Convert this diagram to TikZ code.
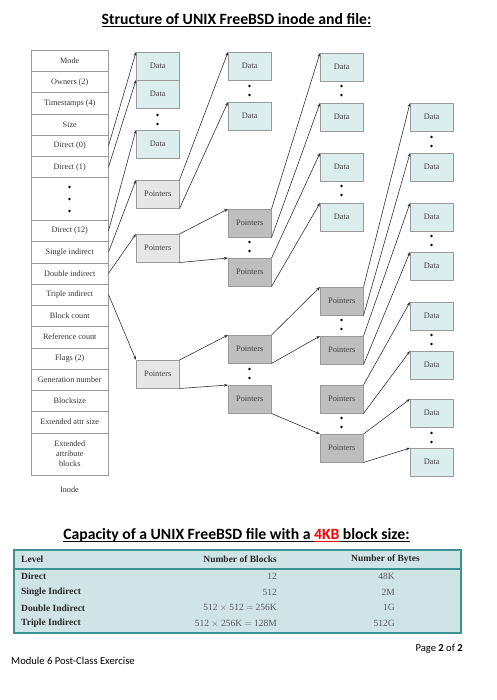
\documentclass[tikz,border=0pt]{standalone}
\usepackage{fontspec}
\setmainfont{Liberation Serif}
\newfontfamily\calibri{Carlito}
\usetikzlibrary{arrows.meta}
\definecolor{datafill}{HTML}{DCEDED}
\definecolor{ptrlight}{HTML}{E6E6E6}
\definecolor{ptrdark}{HTML}{BEBEBE}
\definecolor{tablefill}{HTML}{D0E4E5}
\definecolor{tealb}{HTML}{3C9292}
\definecolor{boxline}{HTML}{9A9A9A}
\newcommand\myul[1]{\setbox0\hbox{#1}\rlap{\rule[-2.4pt]{\wd0}{0.9pt}}\box0}
\begin{document}
\begin{tikzpicture}[x=1pt,y=-1pt,
  blk/.style={draw=boxline, line width=0.5pt, minimum width=43pt, minimum height=28pt, inner sep=0pt, anchor=north west, font=\fontsize{8.3}{10}\selectfont, text=black!75},
  datab/.style={blk, fill=datafill},
  ptrl/.style={blk, fill=ptrlight},
  ptrd/.style={blk, fill=ptrdark},
  irow/.style={draw=boxline, line width=0.5pt, minimum width=77pt, minimum height=21.25pt, inner sep=0pt, anchor=north west, font=\fontsize{8.2}{10}\selectfont, text=black!80},
  arr/.style={-{Stealth[length=4pt,width=2.8pt]}, line width=0.6pt, draw=black!80},
  dotc/.style={circle, fill=black, inner sep=0pt, minimum size=2.8pt},
  ttl/.style={font=\calibri\bfseries\fontsize{15.7}{18}\selectfont},
  tlab/.style={font=\bfseries\fontsize{9.5}{11}\selectfont, text=black!85, inner sep=0pt},
  tnum/.style={font=\fontsize{9.5}{11}\selectfont, text=black!65, inner sep=0pt},
  foot/.style={font=\calibri\fontsize{10.6}{12}\selectfont, inner sep=0pt}
]
\useasboundingbox (0,0) rectangle (496,700);

% Title
\node[ttl] (title) at (236.5,20) {\myul{Structure of UNIX FreeBSD inode and file:}};

% Inode
\node[irow] (mode) at (31,50) {Mode};
\node[irow] (own) at (31,71.25) {Owners (2)};
\node[irow] (ts) at (31,92.5) {Timestamps (4)};
\node[irow] (size) at (31,113.75) {Size};
\node[irow] (d0) at (31,135) {Direct (0)};
\node[irow] (d1) at (31,156.25) {Direct (1)};
\node[irow, minimum height=42.5pt] (ddots) at (31,177.5) {};
\node[irow] (d12) at (31,220) {Direct (12)};
\node[irow] (si) at (31,241.25) {Single indirect};
\node[irow] (di) at (31,262.5) {Double indirect};
\node[irow] (ti) at (31,283.75) {Triple indirect};
\node[irow] (bc) at (31,305) {Block count};
\node[irow] (rc) at (31,326.25) {Reference count};
\node[irow] (fl) at (31,347.5) {Flags (2)};
\node[irow] (gn) at (31,368.75) {Generation number};
\node[irow] (bs) at (31,390) {Blocksize};
\node[irow] (eas) at (31,411.25) {Extended attr size};
\node[irow, minimum height=42.5pt, align=center] (eab) at (31,432.5) {Extended\\attribute\\blocks};
\node[font=\fontsize{8.2}{10}\selectfont, text=black!80] (inodelbl) at (69.5,490) {Inode};
\node[dotc] (id1) at (69.5,187) {};
\node[dotc] (id2) at (69.5,199) {};
\node[dotc] (id3) at (69.5,211) {};

% Column 1
\node[datab] (a1) at (136,52) {Data};
\node[datab] (a2) at (136,80) {Data};
\node[dotc] (ad1) at (157.5,115) {};
\node[dotc] (ad2) at (157.5,124) {};
\node[datab] (a3) at (136,130) {Data};
\node[ptrl] (pa) at (136,180) {Pointers};
\node[ptrl] (pb) at (136,234) {Pointers};
\node[ptrl] (pc) at (136,360) {Pointers};

% Column 2
\node[datab] (b1) at (228,52) {Data};
\node[dotc] (bd1) at (249.5,86) {};
\node[dotc] (bd2) at (249.5,95) {};
\node[datab] (b2) at (228,102) {Data};
\node[ptrd] (q1) at (228,209) {Pointers};
\node[dotc] (qd1) at (249.5,242) {};
\node[dotc] (qd2) at (249.5,251) {};
\node[ptrd] (q2) at (228,258) {Pointers};
\node[ptrd] (q3) at (228,335) {Pointers};
\node[dotc] (qd3) at (249.5,369) {};
\node[dotc] (qd4) at (249.5,378) {};
\node[ptrd] (q4) at (228,385) {Pointers};

% Column 3
\node[datab] (c1) at (320,53) {Data};
\node[dotc] (cd1) at (341.5,86) {};
\node[dotc] (cd2) at (341.5,95) {};
\node[datab] (c2) at (320,103) {Data};
\node[datab] (c3) at (320,153) {Data};
\node[dotc] (cd3) at (341.5,186) {};
\node[dotc] (cd4) at (341.5,195) {};
\node[datab] (c4) at (320,203) {Data};
\node[ptrd] (r1) at (320,287) {Pointers};
\node[dotc] (rd1) at (341.5,320) {};
\node[dotc] (rd2) at (341.5,329) {};
\node[ptrd] (r2) at (320,336) {Pointers};
\node[ptrd] (r3) at (320,385) {Pointers};
\node[dotc] (rd3) at (341.5,418) {};
\node[dotc] (rd4) at (341.5,427) {};
\node[ptrd] (r4) at (320,434) {Pointers};

% Column 4
\node[datab] (e1) at (410,103) {Data};
\node[dotc] (ed1) at (431.5,137) {};
\node[dotc] (ed2) at (431.5,146) {};
\node[datab] (e2) at (410,153) {Data};
\node[datab] (e3) at (410,203) {Data};
\node[dotc] (ed3) at (431.5,236) {};
\node[dotc] (ed4) at (431.5,245) {};
\node[datab] (e4) at (410,252) {Data};
\node[datab] (e5) at (410,302) {Data};
\node[dotc] (ed5) at (431.5,335) {};
\node[dotc] (ed6) at (431.5,344) {};
\node[datab] (e6) at (410,351) {Data};
\node[datab] (e7) at (410,399) {Data};
\node[dotc] (ed7) at (431.5,433) {};
\node[dotc] (ed8) at (431.5,442) {};
\node[datab] (e8) at (410,448) {Data};

% Arrows
\draw[arr] (d0.east) -- (a1.north west);
\draw[arr] (d1.east) -- (a2.north west);
\draw[arr] (d12.east) -- (a3.north west);
\draw[arr] (si.east) -- (pa.north west);
\draw[arr] (di.east) -- (pb.north west);
\draw[arr] (ti.east) -- (pc.north west);
\draw[arr] (pa.north east) -- (b1.north west);
\draw[arr] (pa.south east) -- (b2.north west);
\draw[arr] (pb.north east) -- (q1.north west);
\draw[arr] (pb.south east) -- (q2.north west);
\draw[arr] (pc.north east) -- (q3.north west);
\draw[arr] (pc.south east) -- (q4.north west);
\draw[arr] (q1.north east) -- (c1.north west);
\draw[arr] (q1.south east) -- (c2.north west);
\draw[arr] (q2.north east) -- (c3.north west);
\draw[arr] (q2.south east) -- (c4.north west);
\draw[arr] (q3.north east) -- (r1.north west);
\draw[arr] (q3.south east) -- (r2.north west);
\draw[arr] (q4.south east) -- (r4.north west);
\draw[arr] (r1.north east) -- (e1.north west);
\draw[arr] (r1.south east) -- (e2.north west);
\draw[arr] (r2.north east) -- (e3.north west);
\draw[arr] (r2.south east) -- (e4.north west);
\draw[arr] (r3.north east) -- (e5.north west);
\draw[arr] (r3.south east) -- (e6.north west);
\draw[arr] (r4.north east) -- (e7.north west);
\draw[arr] (r4.south east) -- (e8.north west);

% Second title
\node[ttl] (title2) at (236.5,535) {\myul{Capacity of a UNIX FreeBSD file with a }\textcolor{red}{\myul{4KB}}\myul{ block size:}};

% Table
\node[draw=tealb, fill=tablefill, line width=1.6pt, minimum width=447pt, minimum height=83pt, anchor=north west, inner sep=0pt] (tbl) at (13,549) {};
\coordinate (hl) at (13,569);
\coordinate (hr) at (460,569);
\draw[tealb, line width=1.6pt] (hl) -- (hr);
\node[tlab, anchor=west] (hlev) at (21,559) {Level};
\node[tlab, anchor=east] (hblk) at (277,559) {Number of Blocks};
\node[tlab] (hbyt) at (385.5,559) {Number of Bytes};
\node[tlab, anchor=west] (l1) at (21,576.7) {Direct};
\node[tlab, anchor=west] (l2) at (21,592.3) {Single Indirect};
\node[tlab, anchor=west] (l3) at (21,607.8) {Double Indirect};
\node[tlab, anchor=west] (l4) at (21,623.3) {Triple Indirect};
\node[tnum, anchor=east] (n1) at (277,576.7) {12};
\node[tnum, anchor=east] (n2) at (277,592.3) {512};
\node[tnum, anchor=east] (n3) at (277,607.8) {512 $\times$ 512 $=$ 256K};
\node[tnum, anchor=east] (n4) at (277,623.3) {512 $\times$ 256K $=$ 128M};
\node[tnum, anchor=east] (y1) at (395,576.7) {48K};
\node[tnum, anchor=east] (y2) at (395,592.3) {2M};
\node[tnum, anchor=east] (y3) at (395,607.8) {1G};
\node[tnum, anchor=east] (y4) at (395,623.3) {512G};

% Footer
\node[foot, anchor=east] (page) at (463,649) {Page \textbf{2} of \textbf{2}};
\node[foot, anchor=west] (module) at (11,661) {Module 6 Post-Class Exercise};
\end{tikzpicture}
\end{document}
